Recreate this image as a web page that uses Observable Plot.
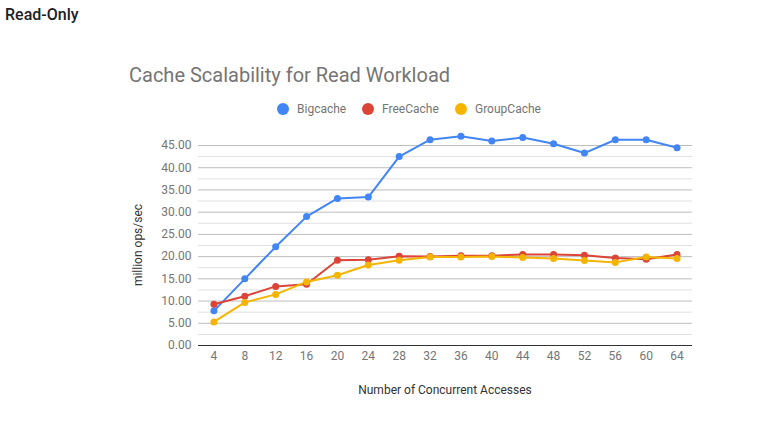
<!DOCTYPE html>
<html>
<head>
<meta charset="utf-8">
<script src="https://cdn.jsdelivr.net/npm/d3@7"></script>
<script src="https://cdn.jsdelivr.net/npm/@observablehq/plot@0.6"></script>
<style>
  html, body { margin: 0; padding: 0; background: #fff; }
  #wrap { position: relative; width: 784px; height: 429px; overflow: hidden; font-family: Roboto, sans-serif; }
  #wrap svg { position: absolute; left: 0; top: 0; }
  .t { position: absolute; white-space: nowrap; }
  #head { left: 5px; top: 5px; font-size: 16px; font-weight: 500; color: #202124; }
  #title { left: 129px; top: 63px; font-size: 20px; color: #757575; }
  #legend { left: 0; top: 101px; width: 784px; height: 16px; }
  .li { position: absolute; font-size: 12px; color: #757575; line-height: 16px; }
  .li span.dot { position: absolute; left: 0; top: 2px; width: 12px; height: 12px; border-radius: 50%; }
  .li span.lab { position: absolute; left: 20px; top: 0; }
  #xlab { left: 198px; width: 494px; text-align: center; top: 383px; font-size: 12px; color: #333; }
  #ylab { left: 138px; top: 245px; font-size: 12px; color: #333; transform: translate(-50%, -50%) rotate(-90deg); }
</style>
</head>
<body>
<div id="wrap"></div>
<script>
const accesses = [4, 8, 12, 16, 20, 24, 28, 32, 36, 40, 44, 48, 52, 56, 60, 64];
const seriesNames = ["Bigcache", "FreeCache", "GroupCache"];
const seriesColors = ["#4285f4", "#db4437", "#f4b400"];
const bigcache   = [7.8, 15.0, 22.2, 29.0, 33.1, 33.4, 42.5, 46.3, 47.1, 46.0, 46.8, 45.4, 43.3, 46.3, 46.3, 44.5];
const freecache  = [9.3, 11.1, 13.3, 13.8, 19.2, 19.3, 20.1, 20.0, 20.2, 20.2, 20.5, 20.5, 20.3, 19.7, 19.4, 20.5];
const groupcache = [5.3, 9.7, 11.5, 14.3, 15.8, 18.1, 19.2, 19.9, 19.9, 20.0, 19.8, 19.6, 19.1, 18.7, 19.9, 19.6];
const yTicks = [0, 5, 10, 15, 20, 25, 30, 35, 40, 45];
const yMinorTicks = [2.5, 7.5, 12.5, 17.5, 22.5, 27.5, 32.5, 37.5, 42.5];

const values = [bigcache, freecache, groupcache];
const data = [];
seriesNames.forEach((s, i) => accesses.forEach((a, j) => data.push({series: s, x: a, y: values[i][j]})));

const wrap = document.getElementById("wrap");

const chart = Plot.plot({
  width: 784,
  height: 429,
  marginTop: 145,
  marginBottom: 84,
  marginLeft: 198,
  marginRight: 92,
  style: { fontFamily: "Roboto, sans-serif", fontSize: "12px", color: "#757575", background: "transparent" },
  x: { type: "linear", domain: [2, 66], label: null },
  y: { domain: [0, 45], label: null },
  color: { domain: seriesNames, range: seriesColors },
  marks: [
    Plot.ruleY(yMinorTicks, { stroke: "#e0e0e0", strokeWidth: 1 }),
    Plot.ruleY(yTicks.filter(d => d > 0), { stroke: "#bdbdbd", strokeWidth: 1 }),
    Plot.axisY(yTicks, { tickSize: 0, tickPadding: 7, tickFormat: d => d.toFixed(2), label: null, fontSize: 12, fill: "#757575" }),
    Plot.axisX(accesses, { tickSize: 0, tickPadding: 6, tickFormat: d => String(d), label: null, fontSize: 12, fill: "#757575" }),
    Plot.ruleY([0], { stroke: "#333333", strokeWidth: 1 }),
    Plot.line(data, { x: "x", y: "y", z: "series", stroke: "series", strokeWidth: 2 }),
    Plot.dot(data, { x: "x", y: "y", fill: "series", r: 3.5 })
  ]
});
wrap.appendChild(chart);

function addText(id, cls, txt) {
  const d = document.createElement("div");
  d.id = id; d.className = cls; d.textContent = txt;
  wrap.appendChild(d);
  return d;
}
addText("head", "t", "Read-Only");
addText("title", "t", "Cache Scalability for Read Workload");
addText("xlab", "t", "Number of Concurrent Accesses");
addText("ylab", "t", "million ops/sec");

const legend = document.createElement("div");
legend.id = "legend"; legend.className = "t";
const legendX = [277, 362, 455];
seriesNames.forEach((s, i) => {
  const item = document.createElement("div");
  item.className = "li";
  item.style.left = legendX[i] + "px";
  item.style.top = "0px";
  const dot = document.createElement("span");
  dot.className = "dot"; dot.style.background = seriesColors[i];
  const lab = document.createElement("span");
  lab.className = "lab"; lab.textContent = s;
  item.appendChild(dot); item.appendChild(lab);
  legend.appendChild(item);
});
wrap.appendChild(legend);
</script>
</body>
</html>
